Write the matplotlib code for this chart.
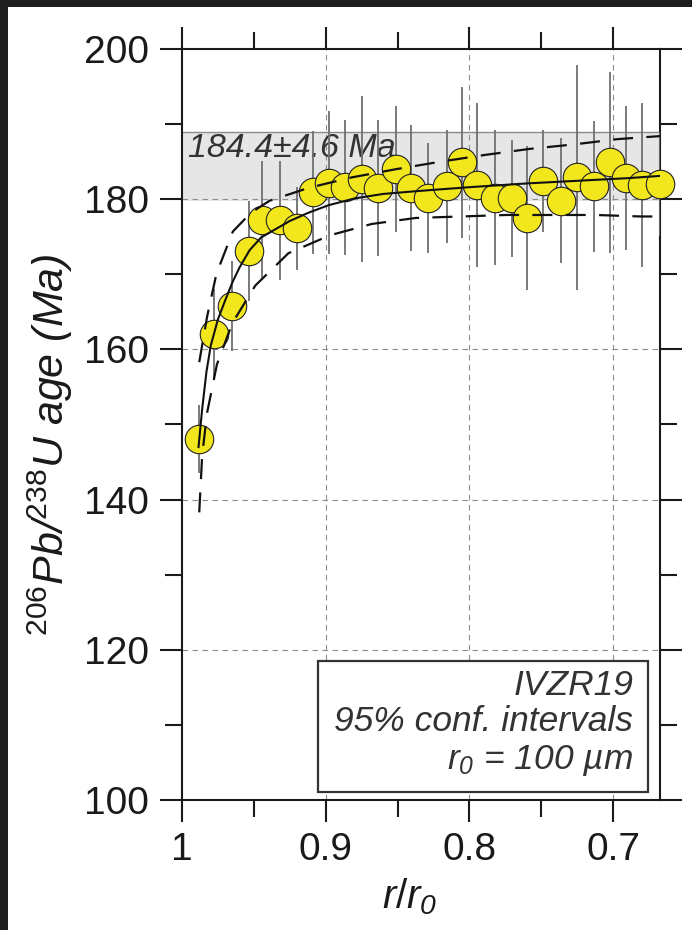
import matplotlib
matplotlib.use("Agg")
import matplotlib.pyplot as plt
from matplotlib.patches import Rectangle
from matplotlib.ticker import MultipleLocator
import numpy as np

plt.rcParams['font.family'] = ['Liberation Sans', 'DejaVu Sans']
plt.rcParams['mathtext.fontset'] = 'custom'
plt.rcParams['mathtext.rm'] = 'Liberation Sans'
plt.rcParams['mathtext.it'] = 'Liberation Sans:italic'
# slanted digits for subscripts
plt.rcParams['mathtext.sf'] = 'Liberation Sans:italic'

# Spot analyses: radial position (r/r0), 206Pb/238U age and 95% error (Ma)
r_pos = [0.9882, 0.9777, 0.9652, 0.9534, 0.9443, 0.9318, 0.9200, 0.9088,
         0.8977, 0.8866, 0.8747, 0.8636, 0.8511, 0.8406, 0.8288, 0.8156,
         0.8051, 0.7947, 0.7822, 0.7704, 0.7599, 0.7488, 0.7363, 0.7251,
         0.7133, 0.7022, 0.6910, 0.6799, 0.6674]
age = [148.1, 162.0, 165.8, 173.1, 177.2, 177.2, 176.1, 180.9,
       182.2, 181.6, 182.7, 181.5, 184.0, 181.5, 180.2, 181.7,
       184.9, 181.9, 180.2, 180.1, 177.5, 182.4, 179.8, 182.9,
       181.7, 184.9, 182.8, 181.9, 182.0]
age_err = [4.5, 6.0, 6.0, 6.7, 7.9, 7.9, 5.5, 8.2,
           9.5, 9.0, 11.0, 9.0, 8.4, 8.4, 7.3, 7.5,
           10.0, 10.9, 9.0, 7.8, 9.6, 6.8, 8.3, 15.0,
           8.7, 12.0, 9.6, 10.9, 6.9]

# Plateau age
plateau_age = 184.4
plateau_err = 4.6

# Diffusion profile fit and its 95% confidence envelope
fit_r = [0.9885, 0.986, 0.983, 0.980, 0.975, 0.970, 0.965, 0.960, 0.953,
         0.945, 0.935, 0.925, 0.912, 0.898, 0.880, 0.860, 0.835, 0.800,
         0.760, 0.720, 0.690, 0.6674]
fit_age = [147.0, 152.0, 157.0, 160.5, 164.0, 166.5, 168.9, 170.9, 173.2,
           174.9, 176.0, 177.1, 178.2, 179.2, 180.1, 180.7, 181.1, 181.6,
           182.1, 182.5, 182.8, 183.1]
upper_r = [0.988, 0.9826, 0.976, 0.9646, 0.952, 0.939, 0.912, 0.882, 0.851,
           0.820, 0.789, 0.758, 0.727, 0.697, 0.6674]
upper_age = [158.3, 164.3, 170.1, 175.7, 178.2, 179.8, 181.5, 182.9, 184.0,
             185.0, 185.9, 186.7, 187.3, 188.0, 188.4]
lower_r = [0.988, 0.986, 0.9826, 0.9757, 0.965, 0.949, 0.926, 0.897, 0.868,
           0.8375, 0.806, 0.774, 0.743, 0.712, 0.681, 0.6674]
lower_age = [138.3, 145.8, 151.5, 158.0, 163.5, 168.5, 172.8, 175.2, 176.7,
             177.5, 177.7, 177.9, 177.9, 177.9, 177.7, 177.7]

r_pos = np.array(r_pos)
age = np.array(age)
age_err = np.array(age_err)

fig = plt.figure(figsize=(6.92, 9.30), dpi=100, facecolor='#1e1e1e')
fig.patches.append(Rectangle((8 / 692, 0), 1, 1 - 7 / 930, transform=fig.transFigure,
                             facecolor='white', edgecolor='none', zorder=-10))
ax = fig.add_axes([182 / 692, 1 - 800 / 930, 478 / 692, 751 / 930])

ink = '#1a1a1a'

# plateau band
ax.axhspan(plateau_age - plateau_err, plateau_age + plateau_err,
           facecolor='#e6e6e6', edgecolor='none', zorder=0)
ax.axhline(plateau_age + plateau_err, color='#8a8a8a', lw=1.0, zorder=1)
ax.text(0.9955, plateau_age + 2.4, f"{plateau_age:.1f}±{plateau_err:.1f} Ma",
        fontsize=24.5, style='italic', color='#333333', ha='left', va='center', zorder=2)

# grid
for gx in [0.9, 0.8, 0.7]:
    ax.axvline(gx, color='#8c8c8c', lw=0.8, dashes=(5, 4), zorder=1)
for gy in [120, 140, 160, 180]:
    ax.axhline(gy, color='#8c8c8c', lw=0.8, dashes=(5, 4), zorder=1)

# error bars and points
ax.vlines(r_pos, age - age_err, age + age_err, color='#707070', lw=1.3, zorder=3)
ax.scatter(r_pos, age, s=420, facecolor='#f2e61c', edgecolor='#222222',
           linewidth=0.8, zorder=4, clip_on=False)

# fitted profile
ax.plot(fit_r, fit_age, color='#111111', lw=1.5, zorder=5)
ax.plot(upper_r, upper_age, color='#111111', lw=1.6, dashes=(9, 6), zorder=5)
ax.plot(lower_r, lower_age, color='#111111', lw=1.6, dashes=(9, 6), zorder=5)

# annotation box
ax.add_patch(Rectangle((0.285, 0.011), 0.69, 0.174, transform=ax.transAxes,
                       facecolor='white', edgecolor='#333333', lw=1.6, zorder=6))
box_kw = dict(transform=ax.transAxes, ha='right', va='center', fontsize=25.5,
              style='italic', color='#333333', zorder=7)
ax.text(0.9435, 0.153, "IVZR19", **box_kw)
ax.text(0.9435, 0.104, "95% conf. intervals", **box_kw)
ax.text(0.9435, 0.052, r"$\mathit{r}_{\mathsf{0}}$ = 100 µm", **box_kw)

# axes
ax.set_xlim(1.0, 0.6674)
ax.set_ylim(100, 200)
ax.xaxis.set_major_locator(MultipleLocator(0.1))
ax.xaxis.set_minor_locator(MultipleLocator(0.05))
ax.yaxis.set_major_locator(MultipleLocator(20))
ax.yaxis.set_minor_locator(MultipleLocator(10))
ax.xaxis.set_major_formatter(lambda v, p: f"{v:g}")
for s in ax.spines.values():
    s.set_linewidth(1.5)
    s.set_color(ink)
ax.tick_params(which='both', direction='out', top=True, right=True,
               width=1.5, color=ink, labelsize=28, labelcolor=ink)
ax.tick_params(which='major', length=16)
ax.tick_params(which='minor', length=12)
ax.tick_params(axis='y', pad=8)
ax.tick_params(axis='x', pad=7)

fig.text(50 / 692, 1 - 445 / 930, r"$^{206}$Pb/$^{238}$U age (Ma)", rotation=90,
         fontsize=31, style='italic', color=ink, ha='center', va='center')
fig.text(410 / 692, 1 - 897 / 930, r"$\mathit{r/r}_{\mathsf{0}}$", fontsize=29,
         color=ink, ha='center', va='center')

fig.savefig("out.png", dpi=100, facecolor=fig.get_facecolor())
